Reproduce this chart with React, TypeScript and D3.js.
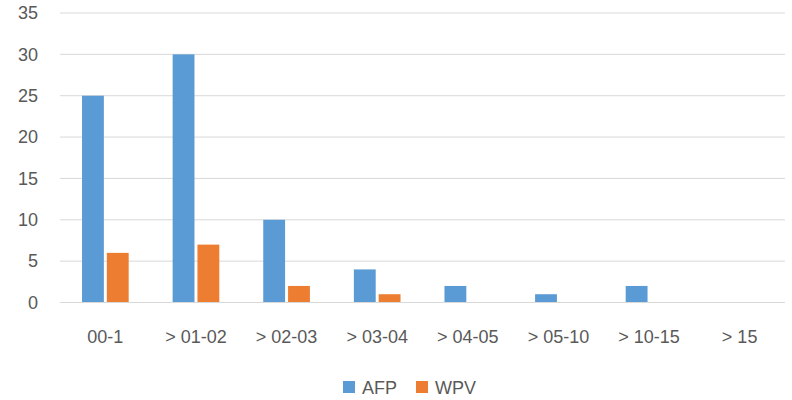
import * as d3 from "d3";
import React from "react";

const categories = ["00-1", "> 01-02", "> 02-03", "> 03-04", "> 04-05", "> 05-10", "> 10-15", "> 15"];
const afp = [25, 30, 10, 4, 2, 1, 2, 0];
const wpv = [6, 7, 2, 1, 0, 0, 0, 0];
const seriesNames = ["AFP", "WPV"];
const yTicks = [0, 5, 10, 15, 20, 25, 30, 35];

const colors = ["#5B9BD5", "#ED7D31"];
const font = "Liberation Sans, Arial, sans-serif";

const App = () => {
  const ref = React.useRef<SVGSVGElement>(null);

  React.useEffect(() => {
    const width = 792,
      height = 400;
    const margin = { top: 13, right: 7, bottom: 97.5, left: 60 };
    const svg = d3.select(ref.current);
    svg.selectAll("*").remove();
    svg.attr("width", width).attr("height", height);

    const innerW = width - margin.left - margin.right;
    const innerH = height - margin.top - margin.bottom;

    const graph = svg
      .append("g")
      .attr("transform", `translate(${margin.left},${margin.top})`);

    const y = d3.scaleLinear().domain([0, 35]).range([innerH, 0]);
    const x = d3
      .scaleBand()
      .domain(categories)
      .range([0, innerW])
      .paddingInner(0.485)
      .paddingOuter(0.243);
    const x1 = d3
      .scaleBand()
      .domain(seriesNames)
      .range([0, x.bandwidth()])
      .paddingInner(0.12);

    // gridlines
    graph
      .selectAll(".grid")
      .data(yTicks)
      .enter()
      .append("line")
      .attr("x1", 0)
      .attr("x2", innerW)
      .attr("y1", (d) => y(d))
      .attr("y2", (d) => y(d))
      .attr("stroke", "#d9d9d9")
      .attr("stroke-width", 1);

    // y labels
    graph
      .selectAll(".ylab")
      .data(yTicks)
      .enter()
      .append("text")
      .attr("x", -22)
      .attr("y", (d) => y(d))
      .attr("dy", "0.35em")
      .attr("text-anchor", "end")
      .attr("fill", "#595959")
      .attr("font-family", font)
      .attr("font-size", 18)
      .text((d) => d);

    const rows = categories.map((c, i) => ({ c, vals: [afp[i], wpv[i]] }));

    const groups = graph
      .selectAll(".cat")
      .data(rows)
      .enter()
      .append("g")
      .attr("transform", (d) => `translate(${x(d.c)},0)`);

    groups
      .selectAll("rect")
      .data((d) => d.vals.map((v, j) => ({ v, s: seriesNames[j], j })))
      .enter()
      .append("rect")
      .attr("x", (d) => x1(d.s)!)
      .attr("width", x1.bandwidth())
      .attr("y", (d) => y(d.v))
      .attr("height", (d) => innerH - y(d.v))
      .attr("fill", (d) => colors[d.j]);

    // baseline redrawn over bars
    graph
      .append("line")
      .attr("x1", 0)
      .attr("x2", innerW)
      .attr("y1", innerH)
      .attr("y2", innerH)
      .attr("stroke", "#d9d9d9")
      .attr("stroke-width", 1);

    // x labels
    graph
      .selectAll(".xlab")
      .data(categories)
      .enter()
      .append("text")
      .attr("x", (d) => x(d)! + x.bandwidth() / 2)
      .attr("y", innerH + 40)
      .attr("text-anchor", "middle")
      .attr("fill", "#595959")
      .attr("font-family", font)
      .attr("font-size", 18)
      .text((d) => d);

    // legend
    const legend = svg
      .append("g")
      .selectAll("g")
      .data(seriesNames)
      .enter()
      .append("g")
      .attr("transform", (d, i) => `translate(${343 + i * 73},381)`);
    legend
      .append("rect")
      .attr("width", 12)
      .attr("height", 12)
      .attr("fill", (d, i) => colors[i]);
    legend
      .append("text")
      .attr("x", 19)
      .attr("y", 13)
      .attr("fill", "#595959")
      .attr("font-family", font)
      .attr("font-size", 18)
      .text((d) => d);
  }, []);

  return (
    <svg
      ref={ref}
      style={{ position: "absolute", left: 0, top: 0, background: "#fff" }}
    />
  );
};

export default App;
